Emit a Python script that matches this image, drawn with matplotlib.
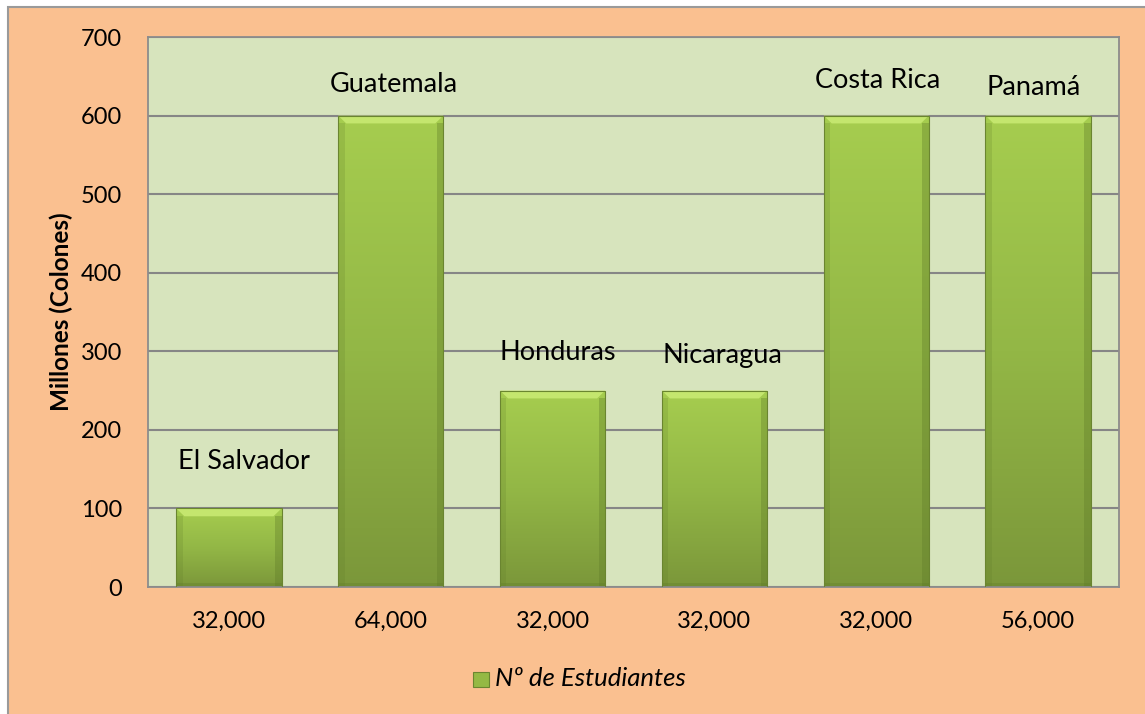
import matplotlib
matplotlib.use("Agg")
import matplotlib.pyplot as plt
import numpy as np
from matplotlib.colors import LinearSegmentedColormap
from matplotlib.patches import Rectangle, Polygon

plt.rcParams['font.family'] = ['Lato', 'DejaVu Sans']

# data
paises = ['El Salvador', 'Guatemala', 'Honduras', 'Nicaragua', 'Costa Rica', 'Panamá']
millones = [100, 600, 250, 250, 600, 600]
estudiantes = ['32,000', '64,000', '32,000', '32,000', '32,000', '56,000']
yticks = [0, 100, 200, 300, 400, 500, 600, 700]

# where the hand-placed country labels sit (data units)
label_dx = [0.09, 0.02, 0.03, 0.05, 0.01, -0.03]
label_y = [160, 640, 299, 295, 644, 636]

fig = plt.figure(figsize=(11.45, 7.14), dpi=100)
fig.patch.set_facecolor('white')
# orange chart area, border only on left/top (runs off the image)
fig.patches.append(Rectangle((8 / 1145, -0.05), 1.2, 1 - 7 / 714 + 0.05,
                             transform=fig.transFigure, facecolor='#FAC090',
                             edgecolor='#9a9a9a', linewidth=1.5, zorder=-10))

ax = fig.add_axes([148 / 1145, 1 - 587 / 714, 971 / 1145, 550 / 714])
ax.set_facecolor('#D7E4BD')
for s in ax.spines.values():
    s.set_color('#8c8c8c')
    s.set_linewidth(1.3)

x = np.arange(len(paises))
bars = ax.bar(x, millones, width=0.65, color='none', edgecolor='#6a8530',
              linewidth=0.8, zorder=3)

grad = LinearSegmentedColormap.from_list('g', ['#7b973a', '#93b746', '#a6cd4f'])
g = np.linspace(0, 1, 256).reshape(-1, 1)
for b in bars:
    x0, y0 = b.get_x(), b.get_y()
    w, h = b.get_width(), b.get_height()
    im = ax.imshow(g, cmap=grad, origin='lower', aspect='auto',
                   extent=(x0, x0 + w, y0, y0 + h), zorder=2)
    im.set_clip_path(b)
    # top bevel
    bv = 10
    ax.add_patch(Polygon([(x0, y0 + h), (x0 + w, y0 + h),
                          (x0 + w - 0.05, y0 + h - bv), (x0 + 0.05, y0 + h - bv)],
                         closed=True, facecolor='#c6e870', edgecolor='none',
                         alpha=0.95, zorder=2.5))
    # side shading
    ax.add_patch(Rectangle((x0 + w - 0.04, y0), 0.04, h - bv,
                           facecolor='#5e7a28', alpha=0.35, edgecolor='none', zorder=2.5))
    ax.add_patch(Rectangle((x0, y0), 0.04, h - bv,
                           facecolor='#5e7a28', alpha=0.2, edgecolor='none', zorder=2.5))
    ax.add_patch(Rectangle((x0, y0), w, 5,
                           facecolor='#5e7a28', alpha=0.3, edgecolor='none', zorder=2.5))

ax.set_xlim(-0.5, len(paises) - 0.5)
ax.set_ylim(0, 700)
ax.set_yticks(yticks)
ax.set_xticks(x)
ax.set_xticklabels(estudiantes)
ax.tick_params(axis='both', length=0, labelsize=17, colors='black')
ax.tick_params(axis='y', pad=18.5)
ax.tick_params(axis='x', pad=17)
ax.yaxis.grid(True, color='#868686', linewidth=1.5)
ax.set_axisbelow(True)

for i, p in enumerate(paises):
    ax.text(i + label_dx[i], label_y[i], p, ha='center', va='center',
            fontsize=19.5, zorder=5)

fig.text(61 / 1145, 1 - 312 / 714, 'Millones (Colones)', rotation=90,
         ha='center', va='center', fontsize=17.5, fontweight='bold')

# legend
fig.patches.append(Rectangle((473 / 1145, 1 - 687 / 714), 16 / 1145, 15 / 714,
                             transform=fig.transFigure, facecolor='#94b944',
                             edgecolor='#6a8530', linewidth=0.8, zorder=3))
fig.text(495 / 1145, 1 - 679 / 714, 'Nº de Estudiantes', ha='left', va='center',
         fontsize=18.5, fontstyle='italic')

fig.savefig('out.png', dpi=100, facecolor=fig.get_facecolor())
